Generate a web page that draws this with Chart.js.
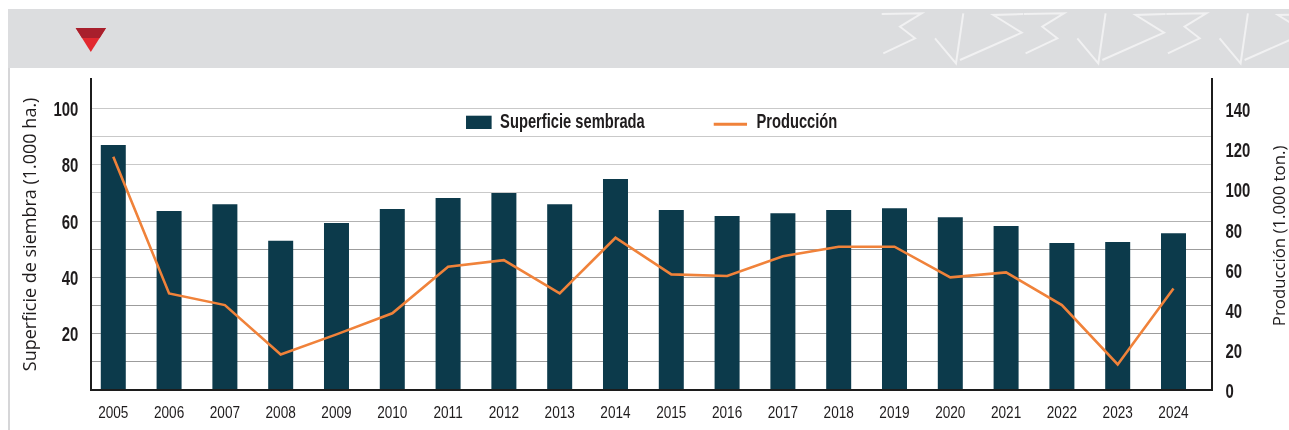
<!DOCTYPE html>
<html>
<head>
<meta charset="utf-8">
<script src="https://cdn.jsdelivr.net/npm/chart.js@4.4.1/dist/chart.umd.min.js"></script>
<style>
  html, body { margin: 0; padding: 0; background: #ffffff; width: 1289px; height: 430px; overflow: hidden; }
  #frame { position: absolute; left: 8px; top: 9px; width: 1281px; height: 421px; border-left: 2px solid #d6d6d8; box-sizing: border-box; }
  #band { position: absolute; left: 8px; top: 9px; width: 1281px; height: 59px; background: #dcdddf; }
  #deco { position: absolute; left: 0; top: 0; }
  #wrap { position: absolute; left: 0; top: 0; width: 1289px; height: 430px; }
</style>
</head>
<body>
<div id="frame"></div>
<div id="band"></div>
<svg id="deco" width="1289" height="68" viewBox="0 0 1289 68">
  <defs><clipPath id="bandclip"><rect x="8" y="9" width="1281" height="59"/></clipPath></defs>
  <g id="pattern" clip-path="url(#bandclip)" fill="none" stroke="#f1f1f2" stroke-width="2" stroke-linejoin="miter"></g>
  <polygon points="75.7,28 106,28 90.8,52" fill="#e2282f"/>
  <polygon points="75.7,28 106,28 99.7,38 82,38" fill="#a81f2c"/>
</svg>
<div id="wrap"><canvas id="c" width="1289" height="430"></canvas></div>

<script>
// ---------------- data ----------------
const years = ['2005','2006','2007','2008','2009','2010','2011','2012','2013','2014',
               '2015','2016','2017','2018','2019','2020','2021','2022','2023','2024'];
const superficie = [87.1, 63.6, 66.0, 53.0, 59.3, 64.3, 68.2, 70.0, 66.0, 75.0,
                    63.9, 61.8, 62.8, 63.9, 64.6, 61.4, 58.2, 52.2, 52.5, 55.7];
const produccion = [116.1, 47.9, 42.1, 17.5, 27.5, 38.0, 61.2, 64.5, 47.9, 75.7,
                    57.4, 56.6, 66.5, 71.2, 71.2, 55.9, 58.4, 42.1, 12.5, 50.4];
const leftGridTicks = [0, 10, 20, 30, 40, 50, 60, 70, 80, 90, 100];
const leftTickLabels = [20, 40, 60, 80, 100];
const rightTicks = [0, 20, 40, 60, 80, 100, 120, 140];
const seriesLabels = ['Superficie sembrada', 'Producción'];
const axisTitles = ['Superficie de siembra (1.000 ha.)', 'Producción (1.000 ton.)'];

// ---------------- header decoration ----------------
(function () {
  const g = document.getElementById('pattern');
  const motif = [
    '881.7,14 921.7,13.3 900,26.7 915,38.3 883.3,53.3',
    '935,38.3 956,63.3 963.3,13.3',
    '960,60 1021.7,32.7 993.3,15 1023.3,14'
  ];
  let html = '';
  for (let k = 0; k < 3; k++) {
    html += '<g transform="translate(' + (142.3 * k) + ',0)">';
    motif.forEach(p => { html += '<polyline points="' + p + '"/>'; });
    html += '</g>';
  }
  g.innerHTML = html;
})();

// ---------------- fonts ----------------
const FONT_L = '"Liberation Sans", Arial, sans-serif';
const FONT_T = '"Open Sans", "Noto Sans", sans-serif';
const TEXT = '#1f1c1d';

function drawNarrow(ctx, text, x, y, font, sx, align) {
  ctx.save();
  ctx.font = font;
  const w = ctx.measureText(text).width * sx;
  const x0 = align === 'center' ? x - w / 2 : (align === 'right' ? x - w : x);
  ctx.translate(x0, y);
  ctx.scale(sx, 1);
  ctx.textAlign = 'left';
  ctx.textBaseline = 'alphabetic';
  ctx.fillStyle = TEXT;
  ctx.fillText(text, 0, 0);
  ctx.restore();
  return w;
}

// ---------------- plugins ----------------
const tickLabelPlugin = {
  id: 'narrowTicks',
  afterDraw(chart) {
    const ctx = chart.ctx;
    const sx = chart.scales.x, sy = chart.scales.y, sy1 = chart.scales.y1;
    const xFont = '17px ' + FONT_L;
    sx.ticks.forEach(t => {
      drawNarrow(ctx, years[t.value], sx.getPixelForValue(t.value), sx.top + 28, xFont, 0.8, 'center');
    });
    const yFont = 'bold 21px ' + FONT_L;
    sy.ticks.forEach(t => {
      if (!leftTickLabels.includes(t.value)) return;
      drawNarrow(ctx, String(t.value), sy.right - 13, sy.getPixelForValue(t.value) + 7.5, yFont, 0.71, 'right');
    });
    sy1.ticks.forEach(t => {
      drawNarrow(ctx, String(t.value), sy1.left + 13.5, sy1.getPixelForValue(t.value) + 8.5, yFont, 0.71, 'left');
    });
  }
};

const legendPlugin = {
  id: 'insideLegend',
  afterDraw(chart) {
    const ctx = chart.ctx, ca = chart.chartArea;
    const items = chart.data.datasets.slice().sort((a, b) => b.order - a.order);
    const sx = 0.7;
    const font = 'bold 21px ' + FONT_L;
    ctx.save();
    ctx.font = font;
    const parts = items.map(ds => {
      const isLine = ds.type === 'line';
      const mw = isLine ? 33.3 : 25.6;
      const gap = isLine ? 9.4 : 8.5;
      const tw = ctx.measureText(ds.label).width * sx;
      return { ds, isLine, mw, gap, tw, w: mw + gap + tw };
    });
    const itemGap = 69;
    const total = parts.reduce((s, p) => s + p.w, 0) + itemGap * (parts.length - 1);
    let x = (ca.left + ca.right) / 2 - total / 2;
    parts.forEach(p => {
      if (p.isLine) {
        ctx.strokeStyle = p.ds.borderColor;
        ctx.lineWidth = 3;
        ctx.beginPath();
        ctx.moveTo(x, 124.3);
        ctx.lineTo(x + p.mw, 124.3);
        ctx.stroke();
      } else {
        ctx.fillStyle = p.ds.backgroundColor;
        ctx.fillRect(x, 115.7, p.mw, 13.3);
      }
      drawNarrow(ctx, p.ds.label, x + p.mw + p.gap, 128.3, font, sx, 'left');
      x += p.w + itemGap;
    });
    ctx.restore();
  }
};

const rightTitlePlugin = {
  id: 'rightTitle',
  afterDraw(chart) {
    const s = chart.scales.y1;
    const t = s.options.title;
    const ctx = chart.ctx;
    ctx.save();
    ctx.font = t.font.size + 'px ' + t.font.family;
    ctx.fillStyle = t.color;
    ctx.translate(1280, (s.top + s.bottom) / 2 + 1.5);
    ctx.rotate(-Math.PI / 2);
    ctx.textAlign = 'center';
    ctx.textBaseline = 'middle';
    ctx.fillText(t.text, 0, 0);
    ctx.restore();
  }
};

// ---------------- chart ----------------
const idx = years.map((_, i) => i);

new Chart(document.getElementById('c'), {
  type: 'bar',
  data: {
    datasets: [
      {
        type: 'line',
        label: seriesLabels[1],
        data: idx.map(i => ({ x: i, y: produccion[i] })),
        yAxisID: 'y1',
        borderColor: '#f0823a',
        backgroundColor: '#f0823a',
        borderWidth: 2.6,
        pointRadius: 0,
        tension: 0,
        fill: false,
        order: 0
      },
      {
        type: 'bar',
        label: seriesLabels[0],
        data: idx.map(i => ({ x: i, y: superficie[i] })),
        yAxisID: 'y',
        backgroundColor: '#0c3a4b',
        barPercentage: 0.448,
        categoryPercentage: 1,
        order: 1
      }
    ]
  },
  options: {
    responsive: false,
    animation: false,
    layout: { padding: { top: 79.3, left: 0, right: 0, bottom: 0 } },
    plugins: { legend: { display: false }, tooltip: { enabled: false } },
    scales: {
      x: {
        type: 'linear',
        min: -0.394,
        max: 19.69,
        offset: false,
        grid: { display: false, drawTicks: false },
        border: { display: true, color: '#1c1c1c', width: 2 },
        afterBuildTicks: s => { s.ticks = idx.map(i => ({ value: i })); },
        ticks: { display: false, autoSkip: false, maxRotation: 0, minRotation: 0 },
        afterFit: s => { s.height = 40.5; }
      },
      y: {
        position: 'left',
        min: 0,
        max: 110.5,
        afterBuildTicks: s => { s.ticks = leftGridTicks.map(v => ({ value: v })); },
        grid: {
          drawTicks: false,
          lineWidth: 1,
          color: c => {
            const v = c.tick ? c.tick.value : 0;
            if (v > 60) return '#c9c9c9';
            if (v === 60) return '#b2b2b2';
            return '#9c9c9c';
          }
        },
        border: { display: true, color: '#1c1c1c', width: 2 },
        ticks: { display: false },
        title: {
          display: true, text: axisTitles[0], color: TEXT,
          font: { family: FONT_T, size: 18 },
          padding: { top: 20.5, bottom: 0 }
        },
        afterFit: s => { s.width = 91.3; }
      },
      y1: {
        position: 'right',
        min: 0,
        max: 154.7,
        afterBuildTicks: s => { s.ticks = rightTicks.map(v => ({ value: v })); },
        grid: { drawOnChartArea: false, drawTicks: false },
        border: { display: true, color: '#1c1c1c', width: 2 },
        ticks: { display: false },
        title: {
          display: false, text: axisTitles[1], color: TEXT,
          font: { family: FONT_T, size: 16.8 }
        },
        afterFit: s => { s.width = 1289 - 1212; }
      }
    }
  },
  plugins: [tickLabelPlugin, legendPlugin, rightTitlePlugin]
});
</script>
</body>
</html>
